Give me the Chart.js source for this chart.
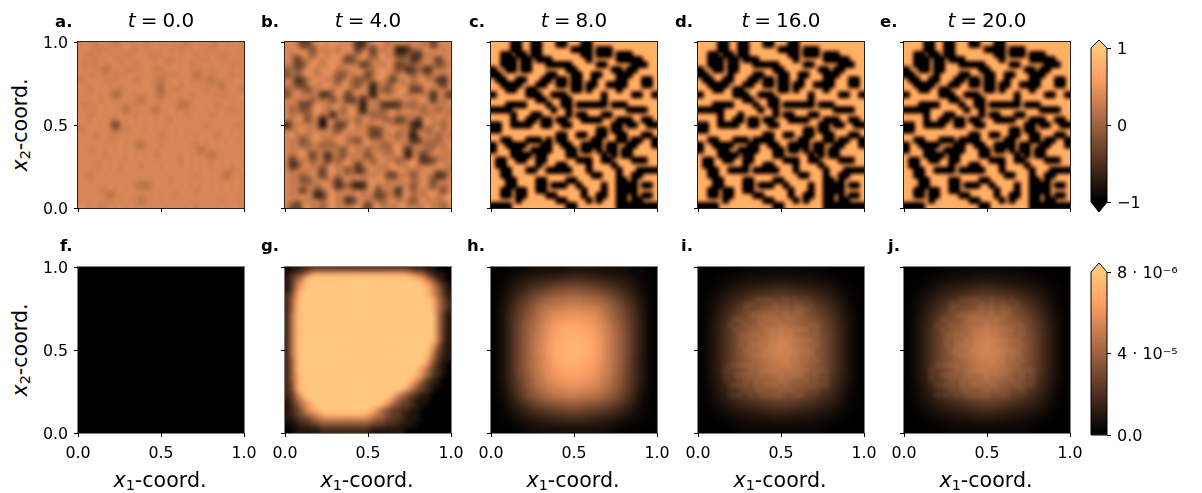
<!DOCTYPE html>
<html><head><meta charset="utf-8">
<script src="https://cdn.jsdelivr.net/npm/chart.js@4"></script>
<style>
html,body{margin:0;padding:0;background:#fff}
#wrap{position:relative;width:1202px;height:493px;overflow:hidden;font-family:"DejaVu Sans";color:#000}
canvas{position:absolute}
.t{position:absolute;white-space:nowrap;line-height:1}
.lab{font-weight:bold;font-size:16.5px}
.ttl{font-size:20px;transform:translateX(-50%)}
.ax{font-size:20.6px;transform:translate(-50%,-50%)}
.ay{font-size:20.6px;transform:translate(-50%,-50%) rotate(-90deg)}
sub{font-size:70%;vertical-align:-0.22em;line-height:0}
</style></head><body><div id="wrap"></div>
<script>
// ---- values (each character is one grid cell) ----
const timeLabels=["0.0","4.0","8.0","16.0","20.0"];
const panelLettersTop=["a.","b.","c.","d.","e."];
const panelLettersBottom=["f.","g.","h.","i.","j."];
const axisTicks=[0,0.5,1];
const phiA=[
"9a98a9989a99a89a99a9989a9a98a99a9","9a99899a9a98a99a9a898a9a9989a9a99","a9899a99a899a9989a9a99a8a9a9899a9",
"99a8a9a98a9a9a99a8899a9a98a9a8a99","9898a99a99a8a9a9a99a9a899a9a9a899","a9a997a9a9899a988a9a9a9a8a899a9a9",
"9a89a9a899a9a9a9a898a9a7a9a9a9899","89a9a898a9a89a997a9a9a99897a9a9a9","a99a9a9a9a9a9a997a9a8a9a9a9a7a9a9",
"9a8a9a9989a9a9a96a98a9a9a89a99a98","a99a9a968a99a9a97a9a9a89a9a898a9a","9a9a8a9a9a9a7a9a9a9a8a9a9a9a9a99a",
"9899a9a9a8a8a9a99a9a77a9a9a89a9a9","a9a9a9a9a79a9a97a9a9a9a9a9a9a9899","9a89a9a9a9a8a9a9a9a9a89a9a89a9a9a",
"a99a9a89a9a9a9a9a98a9a9a9a9a9a9a9","9a9a9a92a9a9a9a9a9a9a9a9a8a9a9a89","89a9a9a7a89a99a9a9a9a99a9a9a9a9a9",
"a9a89a9a9a9a9a9a89a9a9a8a9a89a9a9","9a9a9a89a9a9a9a9a9a9a9a9a9a9a9a99","a9a9a9a9a9a87a9a8a9a9a98a9a9a9a9a",
"9a89a9a9a9a9a9a9a9a9a9a97a9a9a9a9","a9a9a8a9a9a9a9a89a9a9a9a9a78a9a9a","9a9a9a9a99a9a9a9a9a98a9a9a9a9a9a9",
"a9a89a9a9a9a8a9a9a9a9a9a9a8a9a9a9","9a9a9a9a8a9a9a9a9a9a9a9a9a9a9a89a","a989a9a9a9a9a9a9a9a9a9a8a9a9a79a9",
"9a9a9a9a9a9a9a9a9a8a9a9a9a9a9a9a9","a9a9a9a9a9a8778a9a9a9a9a9a9a9a9a9","9a9a89a9a9a9a9a9a9a9a9a89a9a9a9a9",
"a9a9a97a9a9a9a9a9a98a9a9a9a9a9a99","9a9a9a9a9a9a7a9a9a9a9a9a9a9a8a9a9","aa9a89a9a9a9a9a9a9a9a9a8a9a9a9aa9"];
const phiB=[
"777 33 778787777 22 7787677877767 3 777",
"77877 4 86776787 3 77 3 7678 113 76787767",
"76787 5 78687867687 4 7867 33 7 32 767877",
"77 3 767868786 34 78676878767 24 777 3 77",
"76 34 78767876867 34 77687 34 767876 45 7",
"5 7 4 7876878676878767877 4 7 23 7 42 7677",
"4 767876787 54 7687 3 67876787 5 77 5 7867",
"77 24 678767 4 776 45 67876 3 76867867 32 7",
"76 43 786787678 54 77 2 67 5 7867 5 67876 3 7",
"5 767 4 678767876786 1 7 54 6787 33 676787",
"4 786767 23 687 3 7867 1 78678767867 2 77 3",
"77677 5 768 4 76 33 7 2 7867876786787 3 767",
"767 33 7876787867 1 767 3223 7 55 7678767",
"7 5 7 4 6787678 5 786 1 767 5 7867867 5 76 5 76",
"7678 4 7867 2 7678676 555 7867678767876",
"7687 4 76 1 786767 5 78676 5 7 34 76 3 786767",
"2 767867 0 77 33 7867678786767 21 7867 5 7",
"7678676876 4 787676 34 678767 3 76 5 7867",
"78676786767867876 33 767 5 76 1 7867 5 76",
"767 4 678767876 54 7867687676 23 76 65 77",
"767 55 76 555 786767867 55 7867676 55 767",
"76786767876 4 7867 5 767 5 786 2 767 5 7867",
"76787 3 76 2 67 4 7676 4 7867687 1 76 3 78676",
"7 3 767 5 67 3 7 5 786767 5 7867 5 6787 234 767",
"7 24 7867678 6 787 3 786767876786767876",
"7678676 3 7867 4 7 24 78676878676787676",
"767 5 786 3 786767867678 43 767 4 7867 23 7",
"767 44 67867 3 786767878676787678 4 767",
"7678676786 24 7 312 786767867 4 786 4 767",
"767 3 76 4 67867867678 4 767 2 78 5 76787 4 7",
"767876 13 7867678676 34 76 4 786767867 8",
"786767867867 23 78676 5 78676 4 7867678",
"7 43 7867 5 78676786 3 78676786767867 5 7"];
const phiC=[
"....##..##...##...##.............","....##..##......####.###.........","..##.##.##........##.###.###.....",
"..###.##.###.......#.....#####...","..###.##...#####.....##.....###..","#..##.##.......##.......##.##....",
"##.........##...##..##...###.....",".##..##...##.##.##..#....##...##.","..####...##..##.##.##..####...##.",
"...##..##.......##.#.....#.......","#......###..###.......#.....##..#",".........##...##......#..........",
"...####....#..##.######.###......","####........#..#...........####..","....#...##.....#.##...##.........",
"....#..##.##.##...####...###..##.","##..####..##..##........##.##..##","##...................##.##.......",
".............##..##..##..##...##.","..##...###.#.##.....##...##.##..#","#..####...##..##..####.##..##...#",
"#...##..####...##.##.#.##.##.....","....####.##....##.....#.#.##.....",".##..##..##......###..##....###..",
".##......#...##....#....#........","..##...##..#####...#.....#...####","..##................##...#..##...",
"...##....##....##........##.#....","...##....##.###..#....#..####.##.","..##.##..##.......#...#..####....",
"..##.##....##.....#..##..##.#.##.",".....#.......##....#.#...##.##...","####...........##........########"];
const phiD=[
"....##..##...##...##.............","....##..##......####.###.........","..##.##.##........##.###.###.....",
"..###.##.###.......#.....#####...","..###.##...#####.....##.....###..","#..##.##.......##.......##.##....",
"##....#....##...##..##...###.....",".##..##...##.##.##..#....##...##.","..####...##..##.##.##..####...##.",
"...##..##.......##.#.....#.......","#......###..###.......#.....##..#",".........##...##......#..........",
"...####....#..##.######.###......","#####.......#..#...........####..","....#...#......#.##...##.........",
"....#..##.##.##...####...###..##.","##..####..##..##........##.##..##","##...................##.##.......",
".............##..##..##..##...##.","..##...###.####.....##...##.##..#","#..####...##..##..####.##..##...#",
"#...##..####...##.##.#.##.##.....","....####.##....##.....#.#.##.....",".##..##..##......###..##....###..",
".##......#...##....#....#........","..##..####.#####...#.....#...####","..##................##...#..##...",
"...##....##....##........##.#....","...##....##.###..#....#..####.##.","..##.##..##.......#...#..####....",
"..##.##....##.....#..##..##.#.##.",".....#.......##....#.#...##.##...","####...........##........########"];
const phiE=[
"....##..##...##...##.............","....##..##......####.###.........","..##.##.##........##.###.###.....",
"..###.##.###.......#.....#####...","..###.##...#####.....##.....###..","#..##.##.......##.......##.##....",
"##....#....##...##..##...###.....",".##..##...##.##.##..#....##...##.","..####...##..##.##.##..####...##.",
"...##..##.......##.#.....#.......","#......###..###.......#.....##..#",".........##...##......#..........",
"...####....#..##.######.###......","#####.......#..#...........####..","....#...##.....#.##...##.........",
"....#..##.##.##...####...###..##.","##..####..##..##........##.##..##","##...................##.##.......",
".............##..##..##..##...##.","..##...###.####.....##...##.##..#","#..####...##..##..####.##..##...#",
"#...##..####...##.##.#.##.##.....","....####.##....##.....#.#.##.....",".##..##..##......###..##....###..",
".##......#...##....#....#........","..##..####.#####...#.....#...####","..##................##...#..##...",
"...##....##....##........##.#....","...##....##.###..#....#..####.##.","..##.##..##.......#...#..####....",
"..##.##....##.....#..##..##.#.##.",".....#.......##....#.#...##.##...","####...........##........########"];
const concF=["0"];
const concG=[
"01122 33333333333333333333 22211000",
"123468 999999999999999999 87 6532110",
"1357 aaaaaaaaaaaaaaaaaaaaaa 9864210",
"1368 aaaaaaaaaaaaaaaaaaaaaaa 986421",
"1379 aaaaaaaaaaaaaaaaaaaaaaaa 97531",
"248 aaaaaaaaaaaaaaaaaaaaaaaaa 97531",
"258 aaaaaaaaaaaaaaaaaaaaaaaaaa 9642",
"259 aaaaaaaaaaaaaaaaaaaaaaaaaa 9642",
"259 aaaaaaaaaaaaaaaaaaaaaaaaaa 9642",
"269 aaaaaaaaaaaaaaaaaaaaaaaaaaa 631",
"269 aaaaaaaaaaaaaaaaaaaaaaaaaaa 631",
"269 aaaaaaaaaaaaaaaaaaaaaaaaaaa 631",
"269 aaaaaaaaaaaaaaaaaaaaaaaaaaa 631",
"269 aaaaaaaaaaaaaaaaaaaaaaaaaaa 631",
"269 aaaaaaaaaaaaaaaaaaaaaaaaaaa 631",
"269 aaaaaaaaaaaaaaaaaaaaaaaaaa 8 521",
"269 aaaaaaaaaaaaaaaaaaaaaaaaaa 7 421",
"269 aaaaaaaaaaaaaaaaaaaaaaaaa 96321",
"259 aaaaaaaaaaaaaaaaaaaaaaaaa 85311",
"259 aaaaaaaaaaaaaaaaaaaaaaaa 974210",
"259 aaaaaaaaaaaaaaaaaaaaaaa 9753210",
"258 aaaaaaaaaaaaaaaaaaaaaaa 9753210",
"258 aaaaaaaaaaaaaaaaaaaaaa 97532100",
"248 aaaaaaaaaaaaaaaaaaaaa 975321100",
"248 aaaaaaaaaaaaaaaaaaaa 9754321000",
"2369 aaaaaaaaaaaaaaaaa 975432110000",
"13579 aaaaaaaaaaaaaaa 9754321110000",
"124679 aaaaaaaaaaaaa 97543321100000",
"1235789 aaaaaaaaaa 9754332211000000",
"1234567 8999999998 7654332111000000",
"1123345 6666666666 5443322111000000",
"0112233 4444444444 3332221110000000",
"0011111 2222222222 1111111000000000"];
const concH=[
"00112222333222110","01356789a98765310","0257acefgfeca7520","037bfijklkjifb730",
"049dhlnopoolhd940","04aeinqrsrqnie a40","04agkosuvuspkga40","04agkptuwvtpkga40",
"04aglpuwwwupkga40","04agkptvwvtpkg940","04agkortutrokf940","049ejnqrsrqnje940",
"038dhlnoponlhd830","027bfhjkljjhfb720","0146 9bcdedcb9 6410","01245678887654210","00012222222210000"];
const concI=[
"00001111111110000","00122333433322100","01245678887654210","02468abcdcba86410",
"0258bdfgggfdb8520","036adfhijihfda630","037begiklkigeb730","037bfhjlnljhfb730",
"037bfikmomkifb730","037bfhjlnljhfb730","037begiklkigeb730","036adfhijihfda630",
"0258bdfgggfdb8520","02468abcdcba86410","01245678887654210","00122333433322100","00001111111110000"];
const concJ=[
"00001111111110000","00122334443322100","01245678987654210","02468abcdcba86410",
"0258bdfghgfdb8520","036adfhjjjhfda630","037begikmkigeb730","037bfhjmnmjhfb730",
"037bfikmomkifb730","037bfhjmnmjhfb730","037begikmkigeb730","036adfhjjjhfda630",
"0258bdfghgfdb8520","02468abcdcba86410","01245678987654210","00122334443322100","00001111111110000"];
const rimLines=[
".................................",".................................",".................................",
".................................",".................................",".................................",
"...........++++..+.+.+...........",".........++....+.+.++.+..........",".........+.....+.+.+++...........",
"..........+++++..+.++............",".......++...++++..+..............","......+..+..+...+.....++.........",
".......+..+..++.+.++++.+.........","........++++..+.+.+....+.........","........+.+.+.+.+++++++..........",
"........+.+++.++++.....+.........",".........++..++.+.+++++..........","..........++++.+.+++.++..........",
".................+.+.+.+.........","......+++++......++++.+..........",".....+....+.++++..++++.+++.......",
".....+.++++.+...+.+++..+.+.......",".....+...+.+....+....+.+.+.......","......++++.+.+++.+....++++.......",
".........+.++...+.+....+.........","......+++.+.+++++..++............",".................................",
".................................",".................................",".................................",
".................................",".................................","................................."];
const colorbarTopTicks=[-1,0,1];
const colorbarTopLabels=["\u22121","0","1"];
const colorbarBottomTicks=[0,4,8];
const colorbarBottomLabels=["0.0","4 \u00b7 10\u207b\u2075","8 \u00b7 10\u207b\u2076"];

// ---- cell decoders: value on the copper colour scale, 0..1 ----
const levelA=c=>0.3+0.04*parseInt(c,11);
const levelB=c=>0.05+0.09*parseInt(c,11);
const levelP=c=>c==='#'?0.03:0.85;
const levelG=c=>parseInt(c,11)/10;
const level36=c=>parseInt(c,36)/35;
function copper(x){x=Math.max(0,Math.min(1,x));
  return `rgb(${Math.round(255*Math.min(1,1.25*x))},${Math.round(199.2*x)},${Math.round(126.9*x)})`;}
// the c, d, e panels pass through a contrast step that brings these two paints back to copper(0.85) and copper(0.03)
const paintP=x=>x<0.5?'rgb(73,73,73)':'rgb(185,147,118)';

const wrap=document.getElementById('wrap');
const SIZE=166, LEFTS=[78,285,491,698,904], TOPS=[42,267];
const padL=44,padT=22,padR=24,padB=36;

const blurPlugin={id:'blurCells',
  beforeDatasetDraw(chart,a,o){
    if(a.index===0&&chart.data.datasets.length>1){chart.ctx.filter=`blur(${o.rimSigma}px)`;}
  },
  afterDatasetDraw(chart,a,o){
    const ctx=chart.ctx;
    if(a.index===0&&chart.data.datasets.length>1){ctx.filter='none';return;}
    if(!o.sigma)return;
    const c=chart.chartArea,tmp=document.createElement('canvas');
    tmp.width=chart.width;tmp.height=chart.height;
    const w=c.right-c.left,h=c.bottom-c.top,t=tmp.getContext('2d'),src=chart.canvas,e=16;
    // repeat the edge cells outward so the blur does not fade at the frame
    t.drawImage(src,c.left,c.top,w,1,c.left,c.top-e,w,e);
    t.drawImage(src,c.left,c.bottom-1,w,1,c.left,c.bottom,w,e);
    t.drawImage(src,c.left,c.top,1,h,c.left-e,c.top,e,h);
    t.drawImage(src,c.right-1,c.top,1,h,c.right,c.top,e,h);
    t.drawImage(src,c.left,c.top,w,h,c.left,c.top,w,h);
    ctx.save();ctx.beginPath();ctx.rect(c.left,c.top,w,h);ctx.clip();
    const con=o.contrast?` contrast(${o.contrast})`:'';
    if(con){ctx.filter=con.trim();ctx.drawImage(tmp,0,0);}
    ctx.filter=`blur(${o.sigma}px)`+con;ctx.drawImage(tmp,0,0);ctx.restore();
  }};
const framePlugin={id:'frame',afterDraw(chart,a,o){
  const c=chart.chartArea,ctx=chart.ctx;ctx.save();ctx.strokeStyle=o.color;ctx.lineWidth=1;
  ctx.strokeRect(c.left-0.5,c.top-0.5,c.right-c.left+1,c.bottom-c.top+1);ctx.restore();
}};

function addPanel(col,row,rows,decode,sigma,frame,grow,rimAlpha,contrast,paint){
  const clean=rows.map(r=>r.replace(/ /g,''));
  const n=clean.length,pts=[];
  clean.forEach((r,j)=>{for(let i=0;i<n;i++){
    const ch=r[Math.min(i,r.length-1)];
    pts.push({x:(i+0.5)/n,y:1-(j+0.5)/n,v:decode(ch)});}});
  // darker cells are drawn last and a little larger, as the dark marks spread wider than one cell
  if(grow)pts.sort((p,q)=>q.v-p.v);
  const cut=grow?grow.below:-1,fac=grow?grow.factor:1,col2=paint||copper;
  const cv=document.createElement('canvas');
  const W=padL+SIZE+padR,H=padT+SIZE+padB;
  cv.width=W;cv.height=H;cv.style.left=(LEFTS[col]-padL)+'px';cv.style.top=(TOPS[row]-padT)+'px';
  wrap.appendChild(cv);
  const rad=(SIZE/n+0.6)/2*Math.SQRT2;
  const scale=(showLabels,isX)=>({type:'linear',min:0,max:1,
    afterBuildTicks:s=>{s.ticks=axisTicks.map(v=>({value:v}));},
    afterFit:s=>{if(isX)s.height=padB;else s.width=padL;},
    border:{display:false},
    grid:{drawOnChartArea:false,drawTicks:true,tickLength:4,color:'#000',lineWidth:1},
    ticks:{padding:isX?7:6,labelOffset:isX?0:1.5,maxRotation:0,autoSkip:false,color:'#000',font:{family:'DejaVu Sans',size:15.8},
      callback:v=>showLabels?Number(v).toFixed(1):''}});
  const datasets=[{data:pts,pointStyle:'rect',pointBorderWidth:0,clip:0,
      pointRadius:c=>c.raw&&c.raw.v<cut?rad*fac:rad,
      pointBackgroundColor:c=>col2(c.raw?c.raw.v:0)}];
  if(rimAlpha){
    const m=rimLines.length,rim=[];
    rimLines.forEach((r,j)=>{for(let i=0;i<m;i++)if(r[i]==='+')rim.push({x:(i+0.5)/m,y:1-(j+0.5)/m});});
    datasets.unshift({data:rim,pointStyle:'rect',pointBorderWidth:0,clip:0,pointRadius:(SIZE/m)/2*Math.SQRT2,
      pointBackgroundColor:`rgba(255,190,135,${rimAlpha})`});
  }
  new Chart(cv,{type:'scatter',plugins:[blurPlugin,framePlugin],
    data:{datasets},
    options:{responsive:false,animation:false,events:[],devicePixelRatio:1,
      layout:{autoPadding:false,padding:{left:0,top:padT,right:padR,bottom:0}},
      plugins:{legend:{display:false},tooltip:{enabled:false},blurCells:{sigma,rimSigma:2.2,contrast},frame:{color:frame}},
      scales:{x:scale(row===1,true),y:scale(col===0,false)}}});
}

const growP={below:0.5,factor:1.22},growB={below:0.55,factor:1.4},growA={below:0.6,factor:1.5};
const topData=[[phiA,levelA,2.4,growA,0,null],[phiB,levelB,2.4,growB,0,null],[phiC,levelP,2.3,growP,2.6,paintP],[phiD,levelP,2.3,growP,2.6,paintP],[phiE,levelP,2.3,growP,2.6,paintP]];
topData.forEach((d,i)=>addPanel(i,0,d[0],d[1],d[2],'rgba(20,10,5,0.9)',d[3],0,d[4],d[5]));
const botData=[[concF,level36,0,0],[concG,levelG,2.8,0],[concH,level36,6,0.05],[concI,level36,6,0.11],[concJ,level36,6,0.11]];
botData.forEach((d,i)=>addPanel(i,1,d[0],d[1],d[2],'rgba(0,0,0,0.5)',null,d[3],0,null));

// ---- colour bars ----
function addBar(top,bottom,minV,maxV,ticks,labels,tipTop,tipBottom){
  const cv=document.createElement('canvas');
  const L=11,BW=16,T=22,B=22,H=bottom-top+T+B,W=122;
  cv.width=W;cv.height=H;cv.style.left='1080px';cv.style.top=(top-T)+'px';wrap.appendChild(cv);
  const N=64,sets=[];
  for(let k=0;k<N;k++){const lo=minV+(maxV-minV)*k/N,hi=minV+(maxV-minV)*(k+1.3)/N;
    sets.push({data:[[lo,Math.min(hi,maxV)]],backgroundColor:copper((k+0.5)/N),borderWidth:0,grouped:false,barPercentage:1,categoryPercentage:1});}
  const outline={id:'outline',afterDraw(chart){
    const a=chart.chartArea,ctx=chart.ctx,cx=(a.left+a.right)/2;
    const poly=()=>{ctx.beginPath();ctx.moveTo(a.left,a.top);
      if(tipTop)ctx.lineTo(cx,a.top-tipTop);
      ctx.lineTo(a.right,a.top);ctx.lineTo(a.right,a.bottom);
      if(tipBottom)ctx.lineTo(cx,a.bottom+tipBottom);
      ctx.lineTo(a.left,a.bottom);ctx.closePath();};
    ctx.save();
    if(tipTop){ctx.fillStyle=copper(1);ctx.beginPath();ctx.moveTo(a.left,a.top);ctx.lineTo(cx,a.top-tipTop);ctx.lineTo(a.right,a.top);ctx.fill();}
    if(tipBottom){ctx.fillStyle=copper(0);ctx.beginPath();ctx.moveTo(a.left,a.bottom);ctx.lineTo(cx,a.bottom+tipBottom);ctx.lineTo(a.right,a.bottom);ctx.fill();}
    poly();ctx.strokeStyle='#000';ctx.lineWidth=1;ctx.stroke();ctx.restore();
  }};
  new Chart(cv,{type:'bar',plugins:[outline],
    data:{labels:['c'],datasets:sets},
    options:{responsive:false,animation:false,events:[],devicePixelRatio:1,
      layout:{autoPadding:false,padding:{left:L,top:T,bottom:B,right:0}},
      plugins:{legend:{display:false},tooltip:{enabled:false}},
      scales:{x:{display:false},
        y:{type:'linear',position:'right',min:minV,max:maxV,
          afterBuildTicks:s=>{s.ticks=ticks.map(v=>({value:v}));},
          afterFit:s=>{s.width=W-L-BW;},
          border:{display:false},
          grid:{drawOnChartArea:false,drawTicks:true,tickLength:4,color:'#000'},
          ticks:{padding:6,labelOffset:1.5,autoSkip:false,color:'#000',font:{family:'DejaVu Sans',size:16},
            callback:v=>labels[ticks.indexOf(v)]}}}}});
}
addBar(48,202,-1,1,colorbarTopTicks,colorbarTopLabels,8,10);
addBar(272,435,0,8,colorbarBottomTicks,colorbarBottomLabels,9,0);

// ---- mixed-style text ----
function text(cls,x,y,html){const d=document.createElement('div');d.className='t '+cls;
  d.style.left=x+'px';d.style.top=y+'px';d.innerHTML=html;wrap.appendChild(d);}
const labXTop=[55,261,469,675,880],labXBot=[60,261,467,681,888];
panelLettersTop.forEach((s,i)=>text('lab',labXTop[i],14,s));
panelLettersBottom.forEach((s,i)=>text('lab',labXBot[i],238,s));
timeLabels.forEach((s,i)=>text('ttl',LEFTS[i]+SIZE/2,10,'<i>t</i>&#8197;=&#8197;'+s));
LEFTS.forEach(l=>text('ax',l+SIZE/2-1,480,'<i>x</i><sub>1</sub>-coord.'));
[125,350].forEach(y=>text('ay',20,y,'<i>x</i><sub>2</sub>-coord.'));
</script></body></html>
